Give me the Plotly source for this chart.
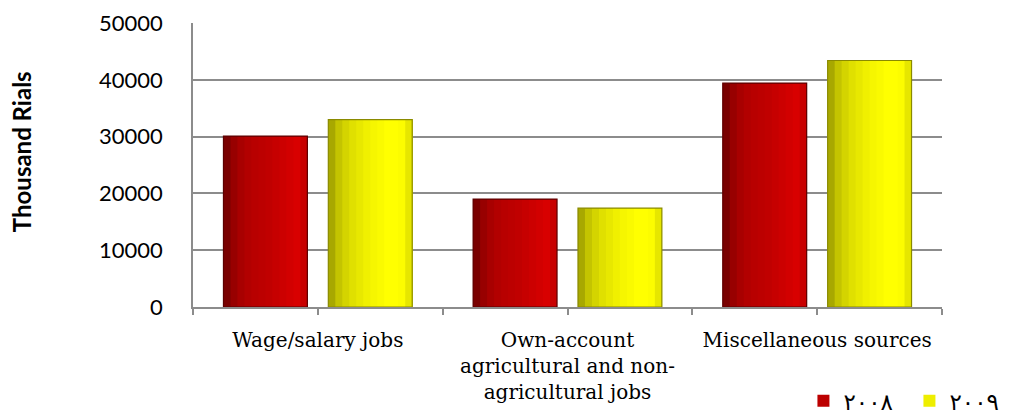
import plotly.graph_objects as go

# ---------------- data ----------------
categories = [
    "Wage/salary jobs",
    "Own-account<br>agricultural and non-<br>agricultural jobs",
    "Miscellaneous sources",
]
years = ["٢٠٠٨", "٢٠٠٩"]
values_2008 = [30100, 19000, 39400]
values_2009 = [33000, 17400, 43400]
y_ticks = [0, 10000, 20000, 30000, 40000, 50000]
y_title = "Thousand Rials"

# ---------------- style ----------------
BAR_W = 0.336
BAR_GAP = 0.084
red_grad = ["#7a0000", "#980000", "#a80000", "#b20000", "#b80000", "#bc0000",
            "#c00000", "#c60000", "#cc0000", "#d20000", "#d80000", "#c80000"]
yel_grad = ["#a8a800", "#c4c400", "#d4d400", "#e0e000", "#e8e800", "#f0f000",
            "#f6f600", "#fafa00", "#ffff00", "#ffff00", "#fcfc00", "#e6e600"]
base_colors = ["#bc0000", "#eeee00"]
edge_colors = ["#5c0000", "#8a8a00"]

x_pos = list(range(len(categories)))
series = [values_2008, values_2009]
grads = [red_grad, yel_grad]

fig = go.Figure()
for s, vals in enumerate(series):
    left = -(2 * BAR_W + BAR_GAP) / 2 + s * (BAR_W + BAR_GAP)
    # base bar (legend entry)
    fig.add_trace(go.Bar(
        x=x_pos, y=vals, width=BAR_W, offset=left,
        marker=dict(color=base_colors[s], line=dict(width=0)),
        name=years[s], legendgroup=years[s], showlegend=True,
        hoverinfo="skip",
    ))
    grad = grads[s]
    n = len(grad)
    for i, col in enumerate(grad):
        start = left + i * BAR_W / n
        fig.add_trace(go.Bar(
            x=x_pos, y=vals, width=BAR_W - i * BAR_W / n, offset=start,
            marker=dict(color=col, line=dict(width=0)),
            legendgroup=years[s], showlegend=False, hoverinfo="skip",
        ))
    # outline
    fig.add_trace(go.Bar(
        x=x_pos, y=vals, width=BAR_W, offset=left,
        marker=dict(color="rgba(0,0,0,0)", line=dict(width=1.2, color=edge_colors[s])),
        legendgroup=years[s], showlegend=False,
        hovertemplate="%{y}<extra>" + years[s] + "</extra>",
    ))

tickvals, ticktext = [], []
for i, c in enumerate(categories):
    tickvals += [i - 0.5, i]
    ticktext += ["", c]
tickvals.append(len(categories) - 0.5)
ticktext.append("")

fig.update_layout(
    width=1002, height=406,
    margin=dict(l=185, r=68, t=15, b=107, autoexpand=False),
    paper_bgcolor="white", plot_bgcolor="white",
    barmode="overlay",
    showlegend=True,
    legend=dict(
        orientation="h", x=0.815, y=-0.33, xanchor="left", yanchor="middle",
        font=dict(family="DejaVu Sans", size=23, color="black"),
        itemwidth=30, traceorder="normal",
        entrywidth=61, entrywidthmode="pixels",
    ),
    xaxis=dict(
        range=[-0.5, len(categories) - 0.5], automargin=False,
        tickmode="array", tickvals=tickvals, ticktext=ticktext,
        ticks="outside", ticklen=6, tickcolor="#8c8c8c", tickwidth=1.5,
        showline=True, linecolor="#8c8c8c", linewidth=1.5,
        showgrid=False, zeroline=False,
        tickfont=dict(family="DejaVu Serif", size=20, color="black"),
        ticklabelstandoff=8,
    ),
    yaxis=dict(
        range=[0, 50000], tickmode="array", tickvals=y_ticks, tickformat="d",
        automargin=False,
        showgrid=True, gridcolor="#8c8c8c", gridwidth=1.5,
        showline=True, linecolor="#8c8c8c", linewidth=1.5,
        zeroline=False, ticks="",
        tickfont=dict(family="Lato", size=22, color="black"),
        ticklabelstandoff=24,
    ),
    annotations=[dict(
        text="<b>" + y_title + "</b>", textangle=-90,
        xref="paper", yref="paper", x=-0.228, y=0.546,
        xanchor="center", yanchor="middle", showarrow=False,
        font=dict(family="Lato", size=24, color="black"),
    )],
)

fig.write_html("out.html")
